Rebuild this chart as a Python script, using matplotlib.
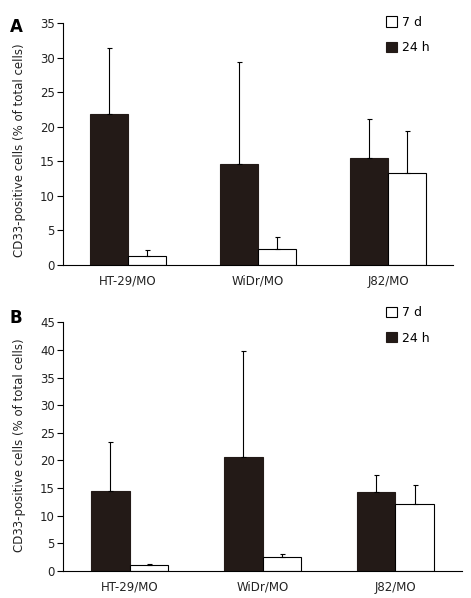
import numpy as np
import matplotlib
matplotlib.use("Agg")
import matplotlib.pyplot as plt

categories = ["HT-29/MO", "WiDr/MO", "J82/MO"]
series_names = ["7 d", "24 h"]

# panel A
a_24h = [21.9, 14.6, 15.4]
a_24h_sd = [9.5, 14.7, 5.7]
a_7d = [1.3, 2.3, 13.3]
a_7d_sd = [0.9, 1.7, 6.1]

# panel B
b_24h = [14.5, 20.6, 14.3]
b_24h_sd = [8.8, 19.2, 3.0]
b_7d = [1.0, 2.5, 12.1]
b_7d_sd = [0.3, 0.5, 3.4]

a_ticks = [0, 5, 10, 15, 20, 25, 30, 35]
b_ticks = [0, 5, 10, 15, 20, 25, 30, 35, 40, 45]

plt.rcParams['font.family'] = ['DejaVu Sans']
fig = plt.figure(figsize=(4.71, 5.98), dpi=100)


def draw_panel(ax, black, black_sd, white, white_sd, ticks, label,
               leg_pos, label_pos, ylab_pos):
    x = np.arange(len(categories))
    w = 0.29
    ekw = dict(elinewidth=0.8, capthick=0.8, ecolor='black')
    h24 = ax.bar(x - w / 2, black, w, color='#231a17', edgecolor='#231a17',
                 linewidth=0.8, yerr=[np.zeros(3), black_sd], capsize=1.8,
                 error_kw=ekw, zorder=2)
    h7 = ax.bar(x + w / 2, white, w, color='white', edgecolor='black',
                linewidth=0.8, yerr=[np.zeros(3), white_sd], capsize=1.8,
                error_kw=ekw, zorder=2)
    ax.set_xlim(-0.5, 2.5)
    ax.set_ylim(0, ticks[-1])
    ax.set_yticks(ticks)
    ax.set_xticks(x)
    ax.set_xticklabels(categories, fontsize=8.5, color='#222222')
    ax.tick_params(axis='x', length=0, pad=7)
    ax.tick_params(axis='y', length=4, width=0.8, labelsize=8.5, pad=2,
                   labelcolor='#222222')
    for s in ['top', 'right']:
        ax.spines[s].set_visible(False)
    for s in ['left', 'bottom']:
        ax.spines[s].set_linewidth(0.8)
    ax.set_ylabel("CD33-positive cells (% of total cells)", fontsize=8.5,
                  color='#222222')
    ax.yaxis.set_label_coords(*ylab_pos)
    ax.legend([h7, h24], series_names, loc='upper left',
              bbox_to_anchor=leg_pos, frameon=False, fontsize=9,
              handlelength=0.9, handleheight=0.9, handletextpad=0.4,
              labelspacing=1.0, borderaxespad=0, borderpad=0)
    ax.text(label_pos[0], label_pos[1], label, transform=ax.transAxes,
            fontsize=12, fontweight='bold', va='center', ha='left')


ax_a = fig.add_axes([0.1338, 0.5569, 0.828, 0.4047])
draw_panel(ax_a, a_24h, a_24h_sd, a_7d, a_7d_sd, a_ticks, "A",
           (0.828, 1.03), (-0.136, 0.983), (-0.095, 0.475))

ax_b = fig.add_axes([0.1344, 0.0452, 0.846, 0.4159])
draw_panel(ax_b, b_24h, b_24h_sd, b_7d, b_7d_sd, b_ticks, "B",
           (0.81, 1.065), (-0.134, 1.019), (-0.093, 0.507))

fig.savefig("out.png", dpi=100)
